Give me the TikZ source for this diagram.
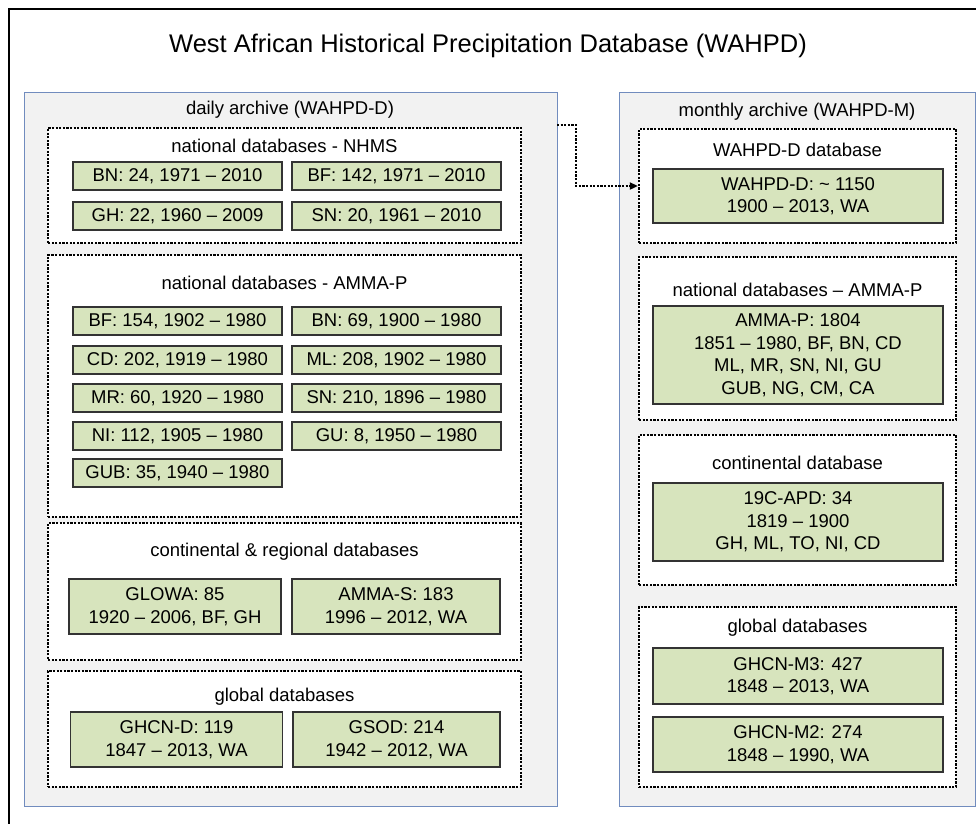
\documentclass[tikz,border=0pt]{standalone}
\usepackage{fontspec}
\setmainfont{Liberation Sans}
\usetikzlibrary{arrows.meta}
\definecolor{gfill}{HTML}{D7E4BD}
\definecolor{gline}{HTML}{333333}
\definecolor{pfill}{HTML}{F2F2F2}
\definecolor{pline}{RGB}{113,140,190}
\begin{document}
\begin{tikzpicture}[x=1pt,y=-1pt,
  panel/.style={draw=pline, fill=pfill, line width=1pt, rectangle, inner sep=0pt},
  dbox/.style={draw=black, fill=white, line width=2.4pt, dash pattern=on 2.2pt off 1.4pt, rectangle, inner sep=0pt},
  gbox/.style={draw=gline, fill=gfill, line width=1.4pt, rectangle, inner sep=0pt, align=center, font=\fontsize{18.5}{22.5}\selectfont},
  lbl/.style={font=\fontsize{18.5}{22}\selectfont, inner sep=0pt},
  ttl/.style={font=\fontsize{25.5}{30}\selectfont, inner sep=0pt},
  darrow/.style={draw=black, line width=2.4pt, dash pattern=on 2.2pt off 1.4pt, -{Triangle[length=8pt,width=7pt]}},
  lw/.style={minimum width=209pt, minimum height=28pt}]
\useasboundingbox (0,0) rectangle (976,823);
\fill[white] (0,0) rectangle (976,823);
\draw[line width=1.2pt] (990,9) -- (9,9) -- (9,840);

\node[ttl] (title) at (488,46) {West African Historical Precipitation Database (WAHPD)};

% panels
\node[panel, minimum width=533pt, minimum height=714pt] (dl) at (290.5,449) {};
\node[panel, minimum width=356pt, minimum height=714pt] (dm) at (797,449) {};
\node[lbl] (dlt) at (290,110) {daily archive (WAHPD-D)};
\node[lbl] (dmt) at (797,112) {monthly archive (WAHPD-M)};

% left dotted boxes
\node[dbox, minimum width=473pt, minimum height=115pt] (d1) at (284.5,185.5) {};
\node[dbox, minimum width=473pt, minimum height=262pt] (d2) at (284.5,386) {};
\node[dbox, minimum width=473pt, minimum height=137pt] (d3) at (284.5,591.5) {};
\node[dbox, minimum width=473pt, minimum height=116pt] (d4) at (284.5,729) {};
\node[lbl] (d1t) at (284.5,146) {national databases - NHMS};
\node[lbl] (d2t) at (284.5,283) {national databases - AMMA-P};
\node[lbl] (d3t) at (284.5,552) {continental \& regional databases};
\node[lbl] (d4t) at (284.5,697) {global databases};

% NHMS
\node[gbox, lw] (n1) at (177.5,176) {BN: 24, 1971 -- 2010};
\node[gbox, lw] (n2) at (396.5,176) {BF: 142, 1971 -- 2010};
\node[gbox, lw] (n3) at (177.5,216) {GH: 22, 1960 -- 2009};
\node[gbox, lw] (n4) at (396.5,216) {SN: 20, 1961 -- 2010};

% AMMA-P
\node[gbox, lw] (a1) at (177.5,321) {BF: 154, 1902 -- 1980};
\node[gbox, lw] (a2) at (396.5,321) {BN: 69, 1900 -- 1980};
\node[gbox, lw] (a3) at (177.5,360) {CD: 202, 1919 -- 1980};
\node[gbox, lw] (a4) at (396.5,360) {ML: 208, 1902 -- 1980};
\node[gbox, lw] (a5) at (177.5,398) {MR: 60, 1920 -- 1980};
\node[gbox, lw] (a6) at (396.5,398) {SN: 210, 1896 -- 1980};
\node[gbox, lw] (a7) at (177.5,436) {NI: 112, 1905 -- 1980};
\node[gbox, lw] (a8) at (396.5,436) {GU: 8, 1950 -- 1980};
\node[gbox, lw] (a9) at (177.5,473) {GUB: 35, 1940 -- 1980};

% continental & regional
\node[gbox, minimum width=212pt, minimum height=55pt] (c1) at (175,606.5) {GLOWA: 85\\1920 -- 2006, BF, GH};
\node[gbox, minimum width=208pt, minimum height=55pt] (c2) at (396,606.5) {AMMA-S: 183\\1996 -- 2012, WA};

% global daily
\node[gbox, minimum width=212pt, minimum height=55pt] (g1) at (176.5,739.5) {GHCN-D: 119\\1847 -- 2013, WA};
\node[gbox, minimum width=207pt, minimum height=55pt] (g2) at (396.5,739.5) {GSOD: 214\\1942 -- 2012, WA};

% right dotted boxes
\node[dbox, minimum width=317pt, minimum height=114pt] (ra) at (797.5,186) {};
\node[dbox, minimum width=317pt, minimum height=163pt] (rb) at (797.5,338.5) {};
\node[dbox, minimum width=317pt, minimum height=150pt] (rc) at (797.5,510) {};
\node[dbox, minimum width=317pt, minimum height=180pt] (rd) at (797.5,697) {};
\node[lbl] (rat) at (797.5,150) {WAHPD-D database};
\node[lbl] (rbt) at (797.5,290) {national databases -- AMMA-P};
\node[lbl] (rct) at (797.5,463) {continental database};
\node[lbl] (rdt) at (797.5,628) {global databases};

\node[gbox, minimum width=290pt, minimum height=54pt] (m1) at (798,196) {WAHPD-D: \textasciitilde{} 1150\\1900 -- 2013, WA};
\node[gbox, minimum width=290pt, minimum height=98pt] (m2) at (798,355) {AMMA-P: 1804\\1851 -- 1980, BF, BN, CD\\ML, MR, SN, NI, GU\\GUB, NG, CM, CA};
\node[gbox, minimum width=290pt, minimum height=78pt] (m3) at (798,522) {19C-APD: 34\\1819 -- 1900\\GH, ML, TO, NI, CD};
\node[gbox, minimum width=290pt, minimum height=56pt] (m4) at (798,676) {GHCN-M3: 427\\1848 -- 2013, WA};
\node[gbox, minimum width=290pt, minimum height=55pt] (m5) at (798,744.5) {GHCN-M2: 274\\1848 -- 1990, WA};

% arrow
\coordinate (as) at (557,125);
\draw[darrow] (as) -- ++(19,0) |- (ra.west);
\end{tikzpicture}
\end{document}
